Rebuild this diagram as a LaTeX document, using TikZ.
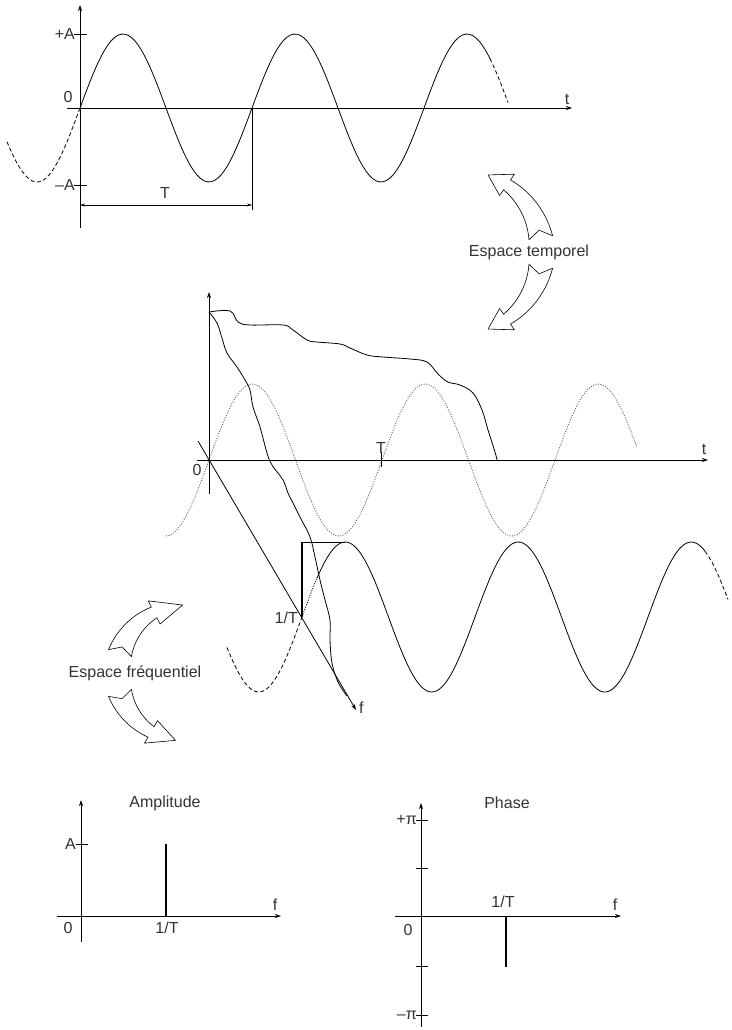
\documentclass[tikz,border=0pt]{standalone}
\usepackage{fontspec}
\setmainfont{Liberation Sans}
\usetikzlibrary{arrows.meta}
\usetikzlibrary{calc}

% hollow bent arrow: centre x, centre y, radius, tail angle, head angle, tip angle
\newcommand{\swoosh}[6]{%
  \draw[swooshline]
    plot[domain=#4:#5, samples=25, variable=\ang]
      ({#1+(#3+12-6*(\ang-(#4))/((#5)-(#4)))*cos(\ang)}, {#2-(#3+12-6*(\ang-(#4))/((#5)-(#4)))*sin(\ang)})
    -- ({#1+(#3+13)*cos(#5)}, {#2-(#3+13)*sin(#5)})
    -- ({#1+#3*cos(#6)}, {#2-#3*sin(#6)})
    -- ({#1+(#3-13)*cos(#5)}, {#2-(#3-13)*sin(#5)})
    -- plot[domain=#5:#4, samples=25, variable=\ang]
      ({#1+(#3-12+6*(\ang-(#4))/((#5)-(#4)))*cos(\ang)}, {#2-(#3-12+6*(\ang-(#4))/((#5)-(#4)))*sin(\ang)})
    -- ({#1+#3*cos((#4)+0.12*((#5)-(#4)))}, {#2-#3*sin((#4)+0.12*((#5)-(#4)))})
    -- cycle;
}

\begin{document}
\begin{tikzpicture}[x=1pt, y=-1pt,
    axis/.style={-{Stealth[length=6pt, width=4pt]}, line width=0.8pt},
    wave/.style={line width=0.8pt},
    dotwave/.style={line width=0.9pt, black!60, dash pattern=on 1pt off 1.5pt},
    dashwave/.style={line width=0.8pt, dash pattern=on 4pt off 2.5pt},
    lbl/.style={font=\fontsize{16}{19}\selectfont, text=black!80, inner sep=1pt},
    swooshline/.style={line width=0.6pt, fill=white, line join=round},
    bar/.style={line width=2.4pt}]
    \useasboundingbox (0,0) rectangle (731,1030);

    % time signal
    \coordinate (o1) at (80,108);
    \draw[axis] (80,228) -- (80,5);
    \draw[axis] (67,108) -- (572,108);
    \node[lbl, anchor=south] (t1) at (567,106) {t};
    \node[lbl] (zero1) at (68,97) {0};
    \draw (74,34) -- (87,34);
    \node[lbl, anchor=east] (plusA) at (76,34) {+A};
    \draw (74,185) -- (87,185);
    \node[lbl, anchor=east] (minusA) at (76,185) {–A};
    \draw[wave] plot[domain=80:490, samples=120] (\x, {108-74*sin(360/172*(\x-80))});
    \draw[dashwave] plot[domain=490:508, samples=8] (\x, {108-74*sin(360/172*(\x-80))});
    \draw[dashwave] plot[domain=7:80, samples=30] (\x, {108-74*sin(360/172*(\x-80))});
    \coordinate (e1) at (252,108);
    \coordinate (e2) at (252,210);
    \draw (e1) -- (e2);
    \draw[{Stealth[length=5pt, width=3pt]}-{Stealth[length=5pt, width=3pt]}] (80,205) -- (252,205);
    \node[lbl] (T1) at (165,193) {T};

    % arrows
    \swoosh{460}{252}{82}{10}{55}{70}
    \swoosh{460}{252}{82}{-10}{-55}{-70}
    \node[lbl] (temp) at (529,252) {Espace temporel};
    \swoosh{185}{673}{68}{163}{117}{92}
    \swoosh{185}{673}{68}{197}{240}{262}
    \node[lbl] (freq) at (135,673) {Espace fréquentiel};

    % time-frequency view
    \coordinate (o2) at (209,460);
    \coordinate (p1) at (302,617);
    \coordinate (pk) at (345.25,542);
    \draw[axis] (209,494) -- (209,292);
    \draw[axis] (197,460) -- (708,460);
    \node[lbl, anchor=south] (t2) at (704,456) {t};
    \node[lbl] (zero2) at (197,470) {0};
    \draw (381,452) -- (381,467);
    \node[lbl, anchor=south, inner sep=0pt] (T2) at (381,454) {T};
    \draw[dotwave] plot[domain=166:637, samples=150] (\x, {460-76*sin(360/173*(\x-209))});
    \draw[axis] (198,441) -- (356,710);
    \node[lbl, anchor=west] (f2) at (358,708) {f};
    \draw[wave] plot[smooth, tension=0.6] coordinates {(209,312) (230,311) (238,322) (250,325)
        (283,325) (293,330) (307,340) (317,342) (340,344) (350,348) (367,355) (383,357)
        (410,359) (427,362) (438,374) (448,382) (460,385) (473,393) (482,410) (488,430)
        (495,452) (497,460)};
    \draw[wave] plot[smooth, tension=0.6] coordinates {(209,312) (217,323) (222,338) (227,353)
        (237,367) (245,380) (250,390) (253,407) (260,427) (267,453) (272,465) (283,480)
        (288,493) (293,503) (300,517) (310,537) (315,557) (320,580) (325,600) (330,620)
        (330,640) (332,663) (338,682) (347,696)};
    \draw[dashwave] plot[domain=227:302, samples=30] (\x, {617-75*sin(360/173*(\x-302))});
    \draw[dotwave, black] plot[domain=302:317, samples=8] (\x, {617-75*sin(360/173*(\x-302))});
    \draw[wave] plot[domain=317:705, samples=150] (\x, {617-75*sin(360/173*(\x-302))});
    \draw[dashwave] plot[domain=705:728, samples=8] (\x, {617-75*sin(360/173*(\x-302))});
    \draw[bar] (p1) -- (p1 |- pk);
    \draw[line width=1pt] (p1 |- pk) -- (pk);
    \node[lbl, anchor=east] (inv1) at (299,618) {1/T};

    % amplitude
    \draw[axis] (81,942) -- (81,800);
    \draw[axis] (57,916) -- (281,916);
    \draw (76,844) -- (88,844);
    \node[lbl, anchor=east] (A3) at (77,844) {A};
    \draw[bar] (166,916) -- (166,844);
    \node[lbl] (zero3) at (68,928) {0};
    \node[lbl] (inv3) at (167,928) {1/T};
    \node[lbl] (f3) at (275,905) {f};
    \node[lbl] (amp) at (165,803) {Amplitude};

    % phase
    \draw[axis] (421,1027) -- (421,803);
    \draw[axis] (395,916) -- (621,916);
    \foreach \yy in {820,868,966,1015}
        \draw (416,\yy) -- (428,\yy);
    \node[lbl, anchor=east] (pip) at (418,820) {+π};
    \node[lbl, anchor=east] (pim) at (418,1015) {–π};
    \draw[bar] (506,916) -- (506,967);
    \node[lbl] (zero4) at (408,930) {0};
    \node[lbl] (inv4) at (503,902) {1/T};
    \node[lbl] (f4) at (615,905) {f};
    \node[lbl] (phase) at (507,803) {Phase};
\end{tikzpicture}
\end{document}
